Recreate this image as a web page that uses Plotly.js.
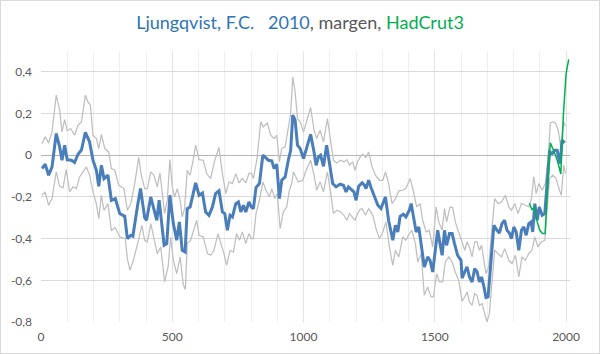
<!DOCTYPE html>
<html>
<head>
<meta charset="utf-8">
<script src="https://cdn.plot.ly/plotly-3.0.1.min.js"></script>
<style>
  html, body { margin: 0; padding: 0; background: #fff; }
  #wrap { width: 600px; height: 354px; box-sizing: border-box; border: 1px solid #d9d9d9; background: #fff; }
  #chart { width: 598px; height: 352px; }
</style>
</head>
<body>
<div id="wrap"><div id="chart"></div></div>
<script>
// Ljungqvist 2010 reconstruction (blue)
const blueYears = [4,16,29,42,58,71,80,90,100,116,128,141,154,169,185,198,211,220,230,240,255,268,283,300,319,329,342,350,367,379,395,402,418,428,441,450,456,469,479,491,504,517,527,538,549,557,568,580,589,602,615,627,640,653,665,678,691,700,710,720,729,742,752,761,771,780,792,801,809,819,832,845,853,866,879,888,898,908,917,930,942,951,959,968,977,987,1000,1012,1027,1040,1048,1057,1065,1076,1088,1101,1111,1124,1139,1152,1162,1171,1184,1192,1200,1210,1223,1232,1238,1248,1257,1270,1283,1295,1312,1324,1340,1350,1359,1368,1380,1390,1403,1410,1418,1429,1439,1448,1460,1473,1482,1492,1502,1511,1520,1528,1537,1545,1556,1566,1575,1587,1600,1604,1614,1623,1632,1642,1652,1661,1670,1678,1686,1695,1703,1712,1725,1737,1746,1756,1766,1775,1784,1792,1801,1810,1820,1830,1839,1848,1858,1867,1873,1881,1890,1898,1909,1919,1928,1937,1947,1957,1966,1977,1985,1995];
const blueVals = [-0.064,-0.043,-0.096,-0.056,0.104,0.04,-0.024,0.048,-0.022,-0.024,-0.035,0.005,0.025,0.11,0.064,-0.024,-0.072,-0.149,-0.048,-0.112,-0.096,-0.216,-0.208,-0.28,-0.293,-0.4,-0.384,-0.389,-0.248,-0.16,-0.3,-0.312,-0.2,-0.248,-0.312,-0.216,-0.296,-0.432,-0.424,-0.192,-0.328,-0.408,-0.32,-0.456,-0.464,-0.256,-0.248,-0.176,-0.133,-0.192,-0.181,-0.272,-0.288,-0.248,-0.184,-0.171,-0.272,-0.28,-0.36,-0.288,-0.296,-0.232,-0.224,-0.272,-0.24,-0.272,-0.224,-0.248,-0.256,-0.155,-0.136,0.0,-0.008,-0.024,-0.027,-0.064,-0.043,-0.208,-0.12,-0.104,-0.024,0.024,0.192,0.168,0.048,0.032,-0.016,0.04,0.1,0.016,-0.048,-0.008,0.0,-0.053,0.048,-0.056,-0.136,-0.152,-0.139,-0.144,-0.176,-0.152,-0.168,-0.176,-0.216,-0.149,-0.133,-0.144,-0.16,-0.12,-0.155,-0.2,-0.24,-0.256,-0.2,-0.312,-0.408,-0.336,-0.368,-0.293,-0.283,-0.296,-0.264,-0.232,-0.296,-0.368,-0.344,-0.424,-0.536,-0.488,-0.504,-0.56,-0.456,-0.36,-0.424,-0.48,-0.36,-0.432,-0.376,-0.376,-0.424,-0.48,-0.504,-0.59,-0.56,-0.536,-0.584,-0.608,-0.544,-0.56,-0.608,-0.584,-0.624,-0.683,-0.68,-0.52,-0.336,-0.36,-0.373,-0.328,-0.312,-0.36,-0.373,-0.4,-0.344,-0.368,-0.456,-0.36,-0.344,-0.384,-0.328,-0.32,-0.368,-0.232,-0.312,-0.248,-0.288,-0.28,-0.136,0.016,0.008,0.024,0.024,-0.04,0.072,0.06];

// Upper margin (gray)
const upperYears = [4,16,29,42,58,71,80,90,100,113,128,141,154,169,179,188,198,211,220,230,243,258,268,281,296,316,329,342,357,372,382,395,405,418,430,443,453,462,471,481,491,500,509,519,530,538,547,557,568,580,589,602,618,631,646,662,678,691,704,716,729,742,754,767,780,792,801,809,822,837,847,862,875,888,898,908,917,930,942,951,959,968,977,987,1000,1015,1027,1040,1050,1063,1076,1091,1104,1114,1126,1142,1154,1165,1175,1187,1196,1206,1215,1225,1238,1248,1261,1274,1289,1302,1312,1324,1337,1350,1363,1378,1390,1406,1418,1431,1444,1454,1467,1479,1492,1505,1515,1528,1537,1545,1558,1568,1578,1591,1604,1614,1623,1632,1642,1652,1661,1670,1678,1686,1695,1705,1716,1728,1741,1754,1769,1782,1792,1805,1817,1830,1845,1858,1868,1877,1886,1896,1909,1921,1932,1940,1950,1960,1970,1980,1990,1998];
const upperVals = [0.056,0.088,0.059,0.112,0.288,0.216,0.112,0.171,0.117,0.128,0.096,0.144,0.16,0.288,0.256,0.24,0.096,0.08,0.032,0.1,0.032,0.016,-0.064,-0.072,-0.144,-0.16,-0.264,-0.232,-0.136,-0.01,-0.096,-0.16,-0.16,-0.08,-0.096,-0.152,-0.085,-0.184,-0.28,-0.216,-0.021,-0.152,-0.2,-0.16,-0.216,-0.296,-0.256,-0.072,-0.096,-0.021,0.048,-0.021,-0.024,-0.088,-0.112,-0.024,0.037,-0.088,-0.184,-0.128,-0.136,-0.088,-0.133,-0.112,-0.133,-0.088,-0.085,-0.112,-0.024,0.16,0.136,0.155,0.096,0.08,0.096,-0.032,0.032,0.04,0.136,0.2,0.376,0.304,0.176,0.16,0.112,0.184,0.229,0.12,0.08,0.12,0.064,0.176,0.056,-0.024,-0.037,-0.024,-0.032,-0.021,-0.048,-0.032,-0.072,-0.03,-0.01,0.005,-0.011,0.016,-0.056,-0.096,-0.12,-0.12,-0.08,-0.136,-0.232,-0.208,-0.171,-0.168,-0.16,-0.112,-0.168,-0.248,-0.232,-0.312,-0.368,-0.36,-0.44,-0.248,-0.32,-0.36,-0.256,-0.32,-0.248,-0.251,-0.32,-0.368,-0.41,-0.456,-0.416,-0.44,-0.488,-0.416,-0.416,-0.456,-0.432,-0.496,-0.568,-0.536,-0.376,-0.208,-0.232,-0.224,-0.192,-0.248,-0.264,-0.232,-0.28,-0.232,-0.24,-0.248,-0.208,-0.104,-0.184,-0.136,-0.168,-0.136,-0.008,0.155,0.16,0.155,0.12,0.04,0.16,0.14];

// Lower margin (gray)
const lowerYears = [4,16,29,42,58,71,84,96,109,122,135,147,160,173,185,198,211,220,230,240,255,268,283,300,321,329,339,352,371,384,395,405,418,433,443,456,471,484,494,504,517,530,542,550,557,570,583,593,602,618,634,646,659,674,687,697,707,720,733,745,756,767,780,792,801,809,819,832,845,857,870,879,891,900,911,923,936,946,955,961,971,980,997,1010,1027,1040,1050,1063,1076,1091,1104,1114,1126,1142,1154,1165,1175,1187,1196,1206,1215,1223,1236,1248,1264,1276,1289,1302,1314,1327,1340,1350,1363,1378,1390,1403,1413,1426,1435,1448,1460,1473,1486,1495,1507,1518,1530,1540,1553,1566,1578,1591,1604,1614,1623,1632,1642,1652,1661,1670,1680,1690,1699,1708,1718,1728,1741,1754,1766,1782,1794,1807,1820,1832,1845,1858,1870,1881,1893,1906,1919,1928,1937,1949,1962,1975,1982,1991,1998];
const lowerVals = [-0.192,-0.176,-0.24,-0.208,-0.08,-0.149,-0.155,-0.069,-0.176,-0.152,-0.16,-0.104,-0.08,-0.056,-0.096,-0.176,-0.232,-0.304,-0.192,-0.264,-0.232,-0.36,-0.347,-0.392,-0.4,-0.496,-0.552,-0.504,-0.408,-0.336,-0.408,-0.416,-0.328,-0.416,-0.472,-0.44,-0.608,-0.536,-0.392,-0.504,-0.568,-0.488,-0.62,-0.644,-0.424,-0.408,-0.352,-0.312,-0.384,-0.392,-0.472,-0.48,-0.456,-0.376,-0.432,-0.472,-0.528,-0.456,-0.464,-0.376,-0.408,-0.368,-0.424,-0.376,-0.4,-0.4,-0.28,-0.216,-0.128,-0.168,-0.2,-0.16,-0.208,-0.184,-0.352,-0.272,-0.248,-0.168,-0.136,-0.08,-0.104,-0.128,-0.12,-0.072,-0.024,-0.096,-0.168,-0.128,-0.176,-0.08,-0.184,-0.28,-0.264,-0.272,-0.288,-0.312,-0.28,-0.296,-0.312,-0.28,-0.26,-0.256,-0.288,-0.256,-0.288,-0.352,-0.4,-0.368,-0.32,-0.44,-0.528,-0.456,-0.488,-0.392,-0.408,-0.376,-0.36,-0.424,-0.512,-0.472,-0.672,-0.632,-0.68,-0.68,-0.568,-0.608,-0.608,-0.512,-0.488,-0.512,-0.56,-0.6,-0.7,-0.68,-0.656,-0.704,-0.72,-0.664,-0.672,-0.72,-0.712,-0.76,-0.8,-0.76,-0.616,-0.456,-0.472,-0.488,-0.448,-0.504,-0.52,-0.48,-0.584,-0.488,-0.504,-0.472,-0.456,-0.392,-0.44,-0.416,-0.408,-0.248,-0.112,-0.096,-0.112,-0.168,-0.192,-0.048,-0.088];

// HadCRUT3 (green)
const hadYears = [1860,1870,1880,1890,1900,1910,1920,1930,1940,1950,1960,1970,1980,1990,2000,2010];
const hadVals = [-0.23,-0.26,-0.25,-0.32,-0.36,-0.375,-0.375,-0.16,0.06,0.03,0.0,-0.04,-0.09,0.2,0.39,0.46];

// Axis ticks
const yTickVals = [-0.8,-0.6,-0.4,-0.2,0,0.2,0.4];
const yTickText = ['-0,8','-0,6','-0,4','-0,2','0','0,2','0,4'];
const xTickVals = [0,500,1000,1500,2000];
const xTickText = ['0','500','1000','1500','2000'];

const grayLine = {color:'#bfbfbf', width:1.25};
const traces = [
  {x: upperYears, y: upperVals, type:'scatter', mode:'lines', line: grayLine, hoverinfo:'skip'},
  {x: lowerYears, y: lowerVals, type:'scatter', mode:'lines', line: grayLine, hoverinfo:'skip'},
  {x: blueYears, y: blueVals, type:'scatter', mode:'lines', line:{color:'#4a7ebb', width:3}},
  {x: hadYears, y: hadVals, type:'scatter', mode:'lines', line:{color:'#00b050', width:1.5}}
];

const tickFont = {family:'Lato, "Open Sans", sans-serif', size:12, color:'#595959'};
const layout = {
  width: 598, height: 352,
  margin: {l:40, r:29, t:50, b:31, pad:0},
  paper_bgcolor:'#ffffff', plot_bgcolor:'#ffffff',
  showlegend:false,
  title: {
    text: '<span style="color:#2e75b6">Ljungqvist, F.C. &nbsp; 2010</span><span style="color:#595959">, margen, </span><span style="color:#00b050">HadCrut3</span>',
    font: {family:'Lato, "Open Sans", sans-serif', size:18},
    x: 0.5, xanchor:'center', y: 0.938, yanchor:'middle', yref:'container'
  },
  xaxis: {
    range:[0,2015], tickvals:xTickVals, ticktext:xTickText,
    showgrid:true, gridcolor:'#e3e3e3', gridwidth:1,
    minor:{dtick:100, tick0:0, showgrid:true, gridcolor:'#efefef', gridwidth:1, ticks:''},
    zeroline:false, showline:false, ticks:'', tickfont:tickFont, ticklabelstandoff:6,
    fixedrange:true
  },
  yaxis: {
    range:[-0.8,0.5], tickvals:yTickVals, ticktext:yTickText,
    showgrid:true, gridcolor:'#d9d9d9', gridwidth:1,
    zeroline:true, zerolinecolor:'#b4b4b4', zerolinewidth:1,
    showline:false, ticks:'', tickfont:tickFont, ticklabelstandoff:8,
    fixedrange:true
  }
};

Plotly.newPlot('chart', traces, layout, {displayModeBar:false, staticPlot:true});
</script>
</body>
</html>
